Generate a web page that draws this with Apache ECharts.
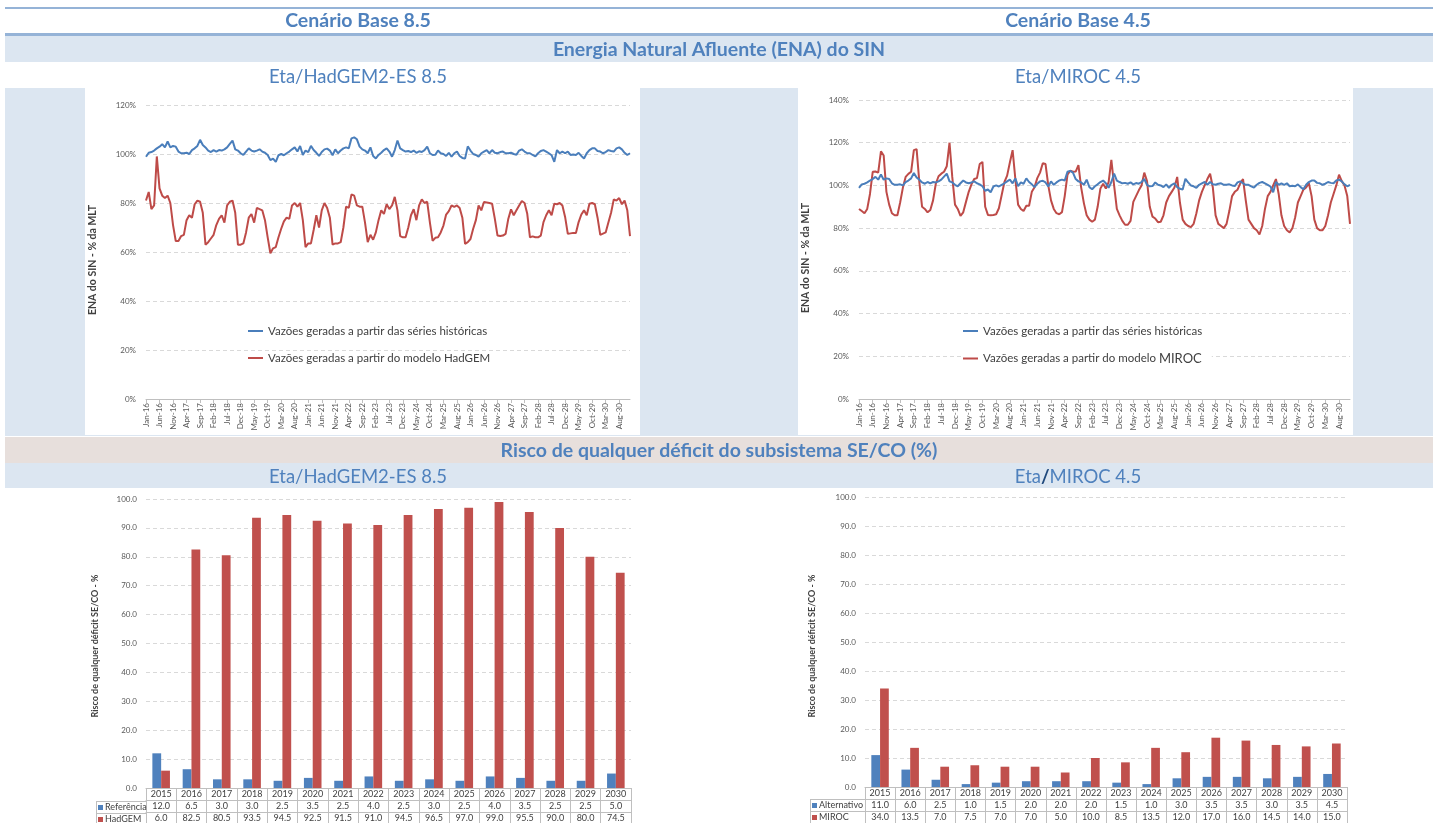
<!DOCTYPE html>
<html>
<head>
<meta charset="utf-8">
<script src="https://cdn.jsdelivr.net/npm/echarts@6/dist/echarts.min.js"></script>
<style>
  html, body { margin: 0; padding: 0; background: #ffffff; }
  #chart { width: 1438px; height: 823px; }
</style>
</head>
<body>
<div id="chart"></div>
<script>
// ---- Monthly categories, Jan-16 .. Dec-30 ----
const monthNames = ['Jan', 'Feb', 'Mar', 'Apr', 'May', 'Jun', 'Jul', 'Aug', 'Sep', 'Oct', 'Nov', 'Dec'];
const yearsENA = [2016, 2017, 2018, 2019, 2020, 2021, 2022, 2023, 2024, 2025, 2026, 2027, 2028, 2029, 2030];
const months = [];
yearsENA.forEach(y => monthNames.forEach(m => months.push(m + '-' + String(y).slice(2))));

// ENA do SIN (% da MLT) - vazões geradas a partir das séries históricas
const historicas = [
  98.9, 100.5, 100.8, 101.4, 102.3, 103, 104, 102.7, 105.1, 102.7, 103.3, 103,
  101, 100.3, 100.3, 100.5, 100, 101.6, 102.3, 103.3, 105.8, 103.7, 102.7, 101.4,
  100.8, 101.6, 101, 101.6, 101.4, 101.9, 102.7, 104.1, 105.5, 101.9, 101.4, 100.3,
  99.6, 101, 102.3, 101.4, 101, 101.4, 101.9, 101, 100.5, 99.6, 97.5, 98.1,
  96.8, 99.5, 100, 99.5, 100.3, 101, 101.9, 102.7, 101, 103.3, 99.6, 101.4,
  100.8, 103.3, 101.6, 100.5, 99.2, 100.8, 101.9, 102.2, 101.4, 99.5, 101.9, 100.3,
  101.4, 102.3, 102.7, 102.3, 106.4, 106.8, 106, 103, 101.9, 101.4, 100.3, 102.7,
  99.2, 98.2, 99.6, 100.5, 101.6, 102.3, 101, 98.9, 101.6, 105.5, 102.3, 101.6,
  101, 101.2, 100.8, 101.4, 100.5, 101.1, 100.8, 101.6, 103, 100.3, 99.6, 99.7,
  101.4, 100.3, 100, 99.2, 100.5, 98.9, 100.3, 101, 99.2, 98.4, 98.1, 103.1,
  101.4, 100, 99.6, 98.9, 100.3, 101, 101.6, 100.3, 101.6, 100.5, 100.3, 100.8,
  101, 100.3, 100.3, 100.5, 100, 99.7, 101.4, 101.9, 101, 100.3, 100.3, 99.6,
  99, 100.3, 101.2, 101.6, 101, 100.3, 99.5, 96.8, 101.6, 100.3, 101, 100.3,
  101, 99.6, 99.8, 99.6, 100.5, 99.2, 98.2, 100.3, 101.6, 102.3, 102.3, 101.2,
  101, 100.3, 100.8, 101.6, 101.2, 101, 102.3, 102.7, 101.9, 100.5, 99.6, 100.3
];

// Vazões geradas a partir do modelo HadGEM (Eta/HadGEM2-ES 8.5)
const hadgemENA = [
  81, 84.5, 77.5, 79, 99, 86, 83, 82, 83, 80, 71, 64.5,
  64.5, 66.5, 67, 73, 75, 74, 79.5, 81, 80.5, 76, 63, 64,
  65.5, 67, 71, 73.5, 75, 72, 79, 80.5, 81, 76, 63, 63,
  63.5, 68, 74, 75.5, 72, 78, 77.5, 77, 73, 66, 59.5, 61.5,
  62, 66, 69.5, 72.5, 74, 73.5, 79, 80, 78.5, 80, 73, 62,
  63.5, 63.5, 69, 75, 70, 77, 80, 78, 74, 63, 63.5, 63.5,
  64, 70, 78.5, 78, 83.5, 83, 79, 78.5, 78.5, 72, 64, 67,
  65, 68, 73, 77, 75.5, 79.5, 77.5, 79, 82.5, 77, 66.5, 66,
  66, 70, 75, 77.5, 73, 79, 81.5, 80, 80.5, 72, 64.5, 65.8,
  66, 68, 70.8, 75.3, 76.7, 79, 78.4, 79, 78, 74, 63.3, 64,
  65.3, 69.5, 73, 79, 77, 80.4, 80.2, 80, 79.7, 73.6, 66.7, 66.5,
  66.7, 67.4, 73.6, 77.4, 75, 77, 79, 80.8, 80, 75.6, 66, 66.4,
  66, 66, 66.7, 72.2, 75, 77, 75, 79.7, 79.5, 80, 79, 74.3,
  67.4, 67.6, 67.8, 67.8, 72.2, 75.3, 77, 75, 79.7, 80, 79.5, 74,
  67, 67.5, 68, 72, 76, 81.5, 81, 82, 79.5, 81, 77, 66.5
];

// Vazões geradas a partir do modelo MIROC (Eta/MIROC 4.5)
const mirocENA = [
  89, 88, 87, 89, 96, 106.4, 106.5, 106, 116, 114, 97, 91,
  87, 86, 86, 92, 99, 104, 105.4, 106.4, 116.5, 117, 101.5, 90,
  89, 87.4, 88.5, 93, 100.8, 104.3, 105.5, 106.4, 109, 120, 104, 91,
  89, 85.7, 87.4, 92.3, 97, 100.5, 103, 103.4, 110, 111, 90, 86.2,
  86, 86.2, 86.5, 89.3, 95.4, 101.5, 104.6, 110.7, 116.5, 103, 91, 89,
  88, 90.5, 90.5, 97, 99.2, 103.4, 106, 110.4, 110, 100, 93, 89,
  87, 86.5, 87.5, 95, 105, 106.9, 106.4, 106.5, 109.5, 99, 91.6, 86,
  84, 83, 84, 90, 98.5, 100.8, 98.5, 101.5, 112, 100, 89, 86,
  83.4, 81.6, 81.6, 83.4, 92.3, 95, 97.7, 100, 106, 102, 90, 85.4,
  84.5, 82.8, 83, 86, 92, 95, 97, 99, 104, 92, 84, 82,
  81, 80.5, 82, 87, 93, 97, 100, 103, 105.5, 99, 86, 82,
  81, 80, 82, 88, 95, 97, 98, 101, 103, 93, 84, 82,
  80, 79, 77, 81, 89, 95, 97, 100, 103, 96, 86, 81,
  79, 78, 80, 85, 92, 95, 98, 99, 101, 95, 84, 80,
  79, 79, 81, 86, 92, 96, 100, 105, 102, 100, 95, 82
];

// Risco de qualquer déficit do subsistema SE/CO (%)
const anos = ['2015', '2016', '2017', '2018', '2019', '2020', '2021', '2022',
              '2023', '2024', '2025', '2026', '2027', '2028', '2029', '2030'];
const referencia  = [12.0, 6.5, 3.0, 3.0, 2.5, 3.5, 2.5, 4.0, 2.5, 3.0, 2.5, 4.0, 3.5, 2.5, 2.5, 5.0];
const hadgemRisco = [6.0, 82.5, 80.5, 93.5, 94.5, 92.5, 91.5, 91.0, 94.5, 96.5, 97.0, 99.0, 95.5, 90.0, 80.0, 74.5];
const alternativo = [11.0, 6.0, 2.5, 1.0, 1.5, 2.0, 2.0, 2.0, 1.5, 1.0, 3.0, 3.5, 3.5, 3.0, 3.5, 4.5];
const mirocRisco  = [34.0, 13.5, 7.0, 7.5, 7.0, 7.0, 5.0, 10.0, 8.5, 13.5, 12.0, 17.0, 16.0, 14.5, 14.0, 15.0];

// ---- Styling ----
const FONT = 'Lato, "Open Sans", sans-serif';
const HEAD = '#4f81bd';
const BAND = '#dce6f1';
const BEIGE = '#e7dfdc';
const RULE = '#95b3d7';
const BLUE = '#4a7ebb';
const RED = '#be4b48';
const BAR_BLUE = '#4f81bd';
const BAR_RED = '#c0504d';
const AXIS_TXT = '#595959';
const GRID_LINE = '#d9d9d9';
const TABLE_LINE = '#bfbfbf';

const NAME_HIST = 'Vazões geradas a partir das séries históricas';
const NAME_HAD = 'Vazões geradas a partir do modelo HadGEM';
const NAME_MIR = 'Vazões geradas a partir do modelo MIROC';

// Plot rectangles (pixels) for the four panels
const G = {
  enaL: { left: 146, top: 105, right: 630, bottom: 399 },
  enaR: { left: 859, top: 100, right: 1350, bottom: 399 },
  rskL: { left: 146, top: 499, right: 631, bottom: 789, legendW: 50 },
  rskR: { left: 865, top: 497, right: 1347, bottom: 787, legendW: 55 }
};
const W = 1438, H = 823;
const ROW = 12;
const gridOf = g => ({ left: g.left, top: g.top, width: g.right - g.left, height: g.bottom - g.top, containLabel: false });

function headerText(text, x, y, bold, size) {
  return {
    type: 'text', x: x, y: y, z: 5,
    style: {
      text: text, fill: HEAD, font: (bold ? 'bold ' : '') + size + 'px ' + FONT,
      align: 'center', verticalAlign: 'middle'
    }
  };
}
function rect(x, y, w, h, fill, z) {
  return { type: 'rect', shape: { x: x, y: y, width: w, height: h }, style: { fill: fill }, z: z === undefined ? -5 : z, silent: true };
}
function hline(x1, x2, y, color) {
  return { type: 'line', shape: { x1: x1, y1: y + 0.5, x2: x2, y2: y + 0.5 }, style: { stroke: color, lineWidth: 1 }, z: 5, silent: true };
}
function vline(x, y1, y2, color) {
  return { type: 'line', shape: { x1: x + 0.5, y1: y1, x2: x + 0.5, y2: y2 }, style: { stroke: color, lineWidth: 1 }, z: 5, silent: true };
}
function axisTitle(text, x, y, size) {
  return {
    type: 'text', x: x, y: y, rotation: Math.PI / 2, z: 5,
    style: { text: text, fill: '#404040', font: 'bold ' + size + 'px ' + FONT, align: 'center', verticalAlign: 'middle' }
  };
}

// Legend column of a data table: cell borders plus a key square and name per row
function tableLegend(g, rows) {
  const x0 = g.left - g.legendW;
  const out = [];
  rows.forEach((r, i) => {
    const top = g.bottom + ROW * (i + 1);
    out.push(hline(x0, g.left, top, TABLE_LINE));
    out.push(rect(x0 + 2, top + ROW / 2 - 2, 5, 5, r.color, 6));
    out.push({
      type: 'text', x: x0 + 9, y: top + ROW / 2 + 0.5, z: 6,
      style: { text: r.name, fill: '#404040', font: '9px ' + FONT, align: 'left', verticalAlign: 'middle' }
    });
  });
  out.push(hline(x0, g.left, g.bottom + ROW * (rows.length + 1), TABLE_LINE));
  out.push(vline(x0, g.bottom + ROW, g.bottom + ROW * (rows.length + 1), TABLE_LINE));
  return out;
}

const HS = 19.5, SS = 18.5;
const graphics = [
  rect(5, 7, 1428, 2, RULE, -4),
  rect(5, 33, 1428, 3, RULE, -4),
  rect(5, 36, 1428, 26, BAND),
  rect(5, 88, 1428, 348, BAND),
  rect(85, 88, 555, 347, '#ffffff', -4),
  rect(798, 88, 555, 347, '#ffffff', -4),
  rect(5, 437, 1428, 26, BEIGE),
  rect(5, 463, 1428, 25, BAND),
  headerText('Cenário Base 8.5', 358, 21, true, HS),
  headerText('Cenário Base 4.5', 1078, 21, true, HS),
  headerText('Energia Natural Afluente (ENA) do SIN', 719, 50, true, HS),
  headerText('Eta/HadGEM2-ES 8.5', 358, 77, false, SS),
  headerText('Eta/MIROC 4.5', 1078, 77, false, SS),
  headerText('Risco de qualquer déficit do subsistema SE/CO (%)', 719, 451, true, HS),
  headerText('Eta/HadGEM2-ES 8.5', 358, 477, false, SS),
  {
    type: 'text', x: 1078, y: 477, z: 5,
    style: {
      text: 'Eta{s|/}MIROC 4.5', fill: HEAD, font: SS + 'px ' + FONT, align: 'center', verticalAlign: 'middle',
      rich: { s: { fill: '#1f497d', fontWeight: 'bold', fontSize: SS, fontFamily: FONT } }
    }
  },
  axisTitle('ENA do SIN - % da MLT', 93, 260, 10.5),
  axisTitle('ENA do SIN - % da MLT', 806, 258, 10.5),
  axisTitle('Risco de qualquer déficit SE/CO - %', 95, 646, 9),
  axisTitle('Risco de qualquer déficit SE/CO - %', 812, 646, 9)
].concat(
  tableLegend(G.rskL, [{ name: 'Referência', color: BAR_BLUE }, { name: 'HadGEM', color: BAR_RED }]),
  tableLegend(G.rskR, [{ name: 'Alternativo', color: BAR_BLUE }, { name: 'MIROC', color: BAR_RED }])
);

// ---- Axes ----
function monthAxis(gridIndex) {
  return {
    type: 'category', gridIndex: gridIndex, data: months, boundaryGap: false,
    axisLine: { show: true, lineStyle: { color: TABLE_LINE, width: 1 } },
    axisTick: { show: true, interval: 4, length: 4, lineStyle: { color: TABLE_LINE } },
    axisLabel: { interval: 4, rotate: 90, fontSize: 8, color: AXIS_TXT, fontFamily: FONT, margin: 4 },
    splitLine: { show: false }
  };
}
function pctAxis(gridIndex, max) {
  return {
    type: 'value', gridIndex: gridIndex, min: 0, max: max, interval: 20,
    axisLine: { show: false }, axisTick: { show: false },
    axisLabel: { formatter: '{value}%', fontSize: 8, color: AXIS_TXT, fontFamily: FONT, margin: 10 },
    splitLine: { lineStyle: { color: GRID_LINE, type: [4, 3], width: 1 } }
  };
}
function riskAxis(gridIndex) {
  return {
    type: 'value', gridIndex: gridIndex, min: 0, max: 100, interval: 10,
    axisLine: { show: false }, axisTick: { show: false },
    axisLabel: { formatter: v => v.toFixed(1), fontSize: 8, color: AXIS_TXT, fontFamily: FONT, margin: 9 },
    splitLine: { lineStyle: { color: GRID_LINE, type: [4, 3], width: 1 } }
  };
}
// Data table under each bar chart: header row of years plus one row per series
function tableAxes(gridIndex, rowA, rowB) {
  const base = {
    type: 'category', gridIndex: gridIndex, data: anos, position: 'bottom', boundaryGap: true,
    axisLine: { show: true, onZero: false, lineStyle: { color: TABLE_LINE, width: 1 } },
    axisTick: { show: false },
    axisLabel: { interval: 0, fontSize: 9, color: '#404040', fontFamily: FONT, margin: 2 },
    splitLine: { show: false }
  };
  return [
    Object.assign({}, base, {
      axisTick: { show: true, interval: 0, length: 36, lineStyle: { color: TABLE_LINE } }
    }),
    Object.assign({}, base, {
      offset: ROW,
      axisLabel: Object.assign({}, base.axisLabel, { formatter: (v, i) => rowA[i].toFixed(1) })
    }),
    Object.assign({}, base, {
      offset: ROW * 2,
      axisLabel: Object.assign({}, base.axisLabel, { formatter: (v, i) => rowB[i].toFixed(1) })
    })
  ];
}

const xAxes = [monthAxis(0), monthAxis(1)]
  .concat(tableAxes(2, referencia, hadgemRisco))
  .concat(tableAxes(3, alternativo, mirocRisco));

const lineSeries = (name, data, xi, color, z) => ({
  name: name, type: 'line', xAxisIndex: xi, yAxisIndex: xi, data: data,
  symbol: 'none', smooth: false, z: z,
  lineStyle: { color: color, width: 2 }, itemStyle: { color: color }
});
const barSeries = (name, data, xi, yi, color) => ({
  name: name, type: 'bar', xAxisIndex: xi, yAxisIndex: yi, data: data,
  barGap: '0%', barCategoryGap: '42%', itemStyle: { color: color }
});

const legendText = { fontSize: 11.5, color: '#404040', fontFamily: FONT };

const option = {
  backgroundColor: '#ffffff',
  animation: false,
  textStyle: { fontFamily: FONT },
  graphic: graphics,
  grid: [gridOf(G.enaL), gridOf(G.enaR), gridOf(G.rskL), gridOf(G.rskR)],
  xAxis: xAxes,
  yAxis: [pctAxis(0, 120), pctAxis(1, 140), riskAxis(2), riskAxis(3)],
  legend: [
    {
      data: [NAME_HIST, NAME_HAD], orient: 'vertical', left: 248, top: 325, padding: 0,
      icon: 'rect', itemWidth: 15, itemHeight: 2, itemGap: 15, textStyle: legendText
    },
    {
      data: [NAME_HIST, NAME_MIR], orient: 'vertical', left: 963, top: 325,
      icon: 'rect', itemWidth: 15, itemHeight: 2, itemGap: 15, textStyle: Object.assign({}, legendText, {
        rich: { m: { fontSize: 13, color: '#404040', fontFamily: FONT, backgroundColor: '#ffffff', padding: [0, 6, 0, 0] } }
      }),
      backgroundColor: '#ffffff', padding: [0, 4, 0, 0],
      formatter: name => name.replace('MIROC', '{m|MIROC}')
    }
  ],
  series: [
    lineSeries(NAME_HIST, historicas, 0, BLUE, 3),
    lineSeries(NAME_HAD, hadgemENA, 0, RED, 2),
    lineSeries(NAME_HIST, historicas, 1, BLUE, 3),
    lineSeries(NAME_MIR, mirocENA, 1, RED, 2),
    barSeries('Referência', referencia, 2, 2, BAR_BLUE),
    barSeries('HadGEM', hadgemRisco, 2, 2, BAR_RED),
    barSeries('Alternativo', alternativo, 5, 3, BAR_BLUE),
    barSeries('MIROC', mirocRisco, 5, 3, BAR_RED)
  ]
};

const chart = echarts.init(document.getElementById('chart'), null, { renderer: 'canvas', width: W, height: H });
chart.setOption(option);
</script>
</body>
</html>
